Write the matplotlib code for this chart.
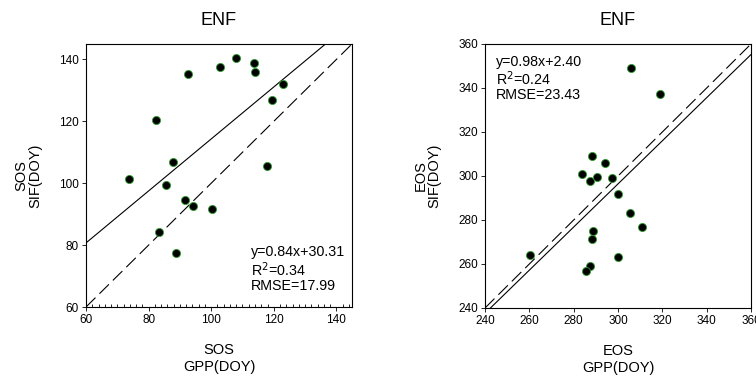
import numpy as np
import matplotlib
matplotlib.use("Agg")
import matplotlib.pyplot as plt
from matplotlib.ticker import MultipleLocator

plt.rcParams['font.family'] = ['Liberation Sans', 'DejaVu Sans']

# SOS panel (GPP vs SIF, DOY)
sos_gpp = [73.7, 82.5, 83.2, 85.6, 87.8, 88.6, 91.7, 92.7, 94.1, 100.2,
           102.9, 108.0, 113.8, 113.9, 117.7, 119.5, 123.1]
sos_sif = [101.5, 120.3, 84.4, 99.4, 107.0, 77.3, 94.7, 135.2, 92.5, 91.7,
           137.6, 140.5, 139.0, 135.8, 105.7, 126.8, 132.0]
sos_fit = (0.84, 30.31)
sos_text = "y=0.84x+30.31\nR$^2$=0.34\nRMSE=17.99"

# EOS panel
eos_gpp = [260.3, 283.9, 287.5, 288.1, 290.7, 294.1, 297.1, 299.8, 288.6,
           288.1, 287.5, 285.4, 300.0, 305.6, 310.7, 305.9, 319.0]
eos_sif = [264.3, 300.8, 297.9, 309.3, 299.4, 305.8, 299.2, 291.6, 274.9,
           271.4, 259.1, 257.0, 263.2, 283.1, 276.9, 348.9, 337.1]
eos_fit = (0.98, 2.40)
eos_text = "y=0.98x+2.40\nR$^2$=0.24\nRMSE=23.43"

fig = plt.figure(figsize=(7.56, 3.76), dpi=100)
ax1 = fig.add_axes([86 / 756, 69 / 376, 266 / 756, 263 / 376])
ax2 = fig.add_axes([485 / 756, 68 / 376, 266 / 756, 264 / 376])


def panel(ax, x, y, fit, lim, step, xlab, ylab, txt, txt_pos, ha, va):
    lo, hi = lim
    xx = np.array([lo, hi])
    ax.plot(xx, fit[0] * xx + fit[1], color='black', lw=0.8)
    ax.plot(xx, xx, color='black', lw=0.8, dashes=(12, 5))
    ax.scatter(x, y, s=34, facecolor='black', edgecolor='#2ca02c',
               linewidths=0.6, zorder=3)
    ax.set_xlim(lo, hi)
    ax.set_ylim(lo, hi)
    ax.xaxis.set_major_locator(MultipleLocator(step))
    ax.yaxis.set_major_locator(MultipleLocator(step))
    ax.tick_params(labelsize=8.5, length=3, width=0.6, pad=2)
    ax.set_title("ENF", fontsize=13, pad=14)
    ax.set_xlabel(xlab, fontsize=10.5, labelpad=12, linespacing=1.3)
    ax.set_ylabel(ylab, fontsize=10.5, labelpad=12, linespacing=1.0)
    for s in ax.spines.values():
        s.set_linewidth(0.8)
    ax.text(txt_pos[0], txt_pos[1], txt, transform=ax.transAxes,
            fontsize=10.3, ha=ha, va=va, linespacing=1.05)


panel(ax1, sos_gpp, sos_sif, sos_fit, (60, 145), 20,
      "SOS\nGPP(DOY)", "SOS\nSIF(DOY)", sos_text, (0.62, 0.235), 'left', 'top')
ax1.xaxis.set_minor_locator(MultipleLocator(2))
ax1.tick_params(axis='x', which='minor', direction='in', length=2, width=0.6)

panel(ax2, eos_gpp, eos_sif, eos_fit, (240, 360), 20,
      "EOS\nGPP(DOY)", "EOS\nSIF(DOY)", eos_text, (0.04, 0.96), 'left', 'top')

fig.savefig("out.png", dpi=100)
